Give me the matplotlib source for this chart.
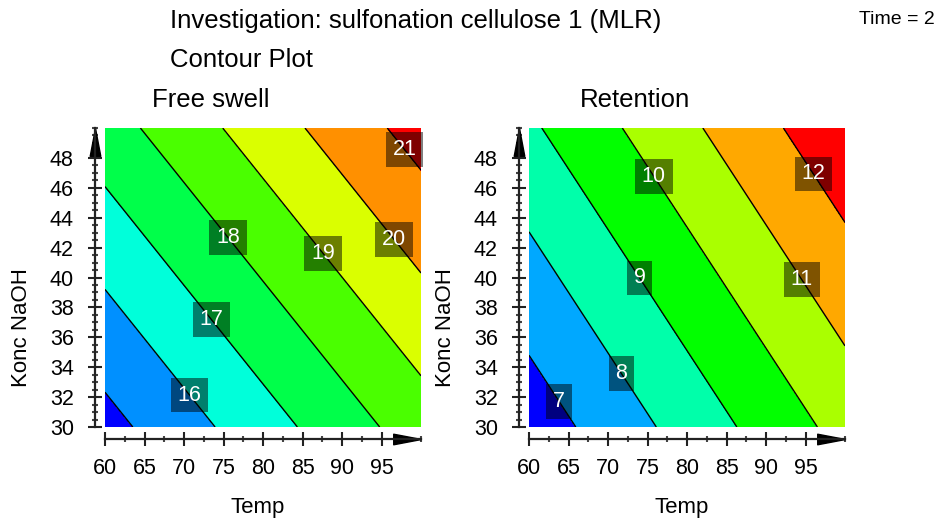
import numpy as np
import matplotlib.pyplot as plt
from matplotlib.colors import LinearSegmentedColormap
from matplotlib.ticker import MultipleLocator
from matplotlib.transforms import ScaledTranslation

plt.rcParams['font.family'] = ['Liberation Sans', 'DejaVu Sans']

# Design space
temp_range = [60, 100]
konc_range = [30, 50]
temp_ticks = [60, 65, 70, 75, 80, 85, 90, 95]
konc_ticks = [30, 32, 34, 36, 38, 40, 42, 44, 46, 48]

# MLR models: y = b0 + b_temp * Temp + b_konc * Konc
swell_coef = [4.54, 0.0960, 0.1454]
retention_coef = [-3.10, 0.0981, 0.1211]

swell_levels = [15, 16, 17, 18, 19, 20, 21]
retention_levels = [7, 8, 9, 10, 11, 12]

# Temp at which each contour gets its value box (None = no box)
swell_label_temp = [None, 70.7, 73.5, 75.6, 87.6, 96.6, 97.9]
retention_label_temp = [63.8, 71.7, 74.0, 75.8, 94.5, 96.0]

panels = [
    ("Free swell", swell_coef, swell_levels, swell_label_temp),
    ("Retention", retention_coef, retention_levels, retention_label_temp),
]

rainbow = LinearSegmentedColormap.from_list(
    "modde", ["#0000ff", "#00ffff", "#00ff00", "#ffff00", "#ff0000"])

fig = plt.figure(figsize=(9.39, 5.21), dpi=100)
W, H = 939, 521


def axes_rect(x0, x1, top, bottom):
    return [x0 / W, 1 - bottom / H, (x1 - x0) / W, (bottom - top) / H]


rects = [axes_rect(105, 421, 128, 427), axes_rect(529, 845, 128, 427)]

# arrow head, tip at the origin
arrow_x = [(0, 0), (-1, 0.19), (-1, -0.19), (0, 0)]
arrow_y = [(0, 0), (0.19, -1), (-0.19, -1), (0, 0)]

T = np.linspace(temp_range[0], temp_range[1], 201)
K = np.linspace(konc_range[0], konc_range[1], 201)
TT, KK = np.meshgrid(T, K)

for rect, (name, coef, levels, label_temp) in zip(rects, panels):
    ax = fig.add_axes(rect)
    b0, bt, bk = coef
    Z = b0 + bt * TT + bk * KK

    n = len(levels) + 1
    colors = [rainbow(i / (n - 1)) for i in range(n)]
    ax.contourf(TT, KK, Z, levels=levels, colors=colors, extend='both')
    ax.contour(TT, KK, Z, levels=levels, colors='black', linewidths=1.0)

    for lev, t in zip(levels, label_temp):
        if t is None:
            continue
        k = (lev - b0 - bt * t) / bk
        ax.text(t, k, str(lev), color='white', fontsize=15.5,
                ha='center', va='center',
                bbox=dict(boxstyle='square,pad=0.32', fc='black',
                          ec='none', alpha=0.5))

    ax.set_xlim(temp_range)
    ax.set_ylim(konc_range)
    ax.set_xticks(temp_ticks)
    ax.set_yticks(konc_ticks)
    ax.xaxis.set_minor_locator(MultipleLocator(2.5))
    ax.yaxis.set_minor_locator(MultipleLocator(0.5))

    for side in ('top', 'right'):
        ax.spines[side].set_visible(False)
    ax.spines['left'].set_position(('outward', 7.2))
    ax.spines['bottom'].set_position(('outward', 8.6))
    for side in ('left', 'bottom'):
        ax.spines[side].set_linewidth(1.6)
        ax.spines[side].set_color('#222222')

    ax.tick_params(which='major', direction='inout', length=10.5, width=1.5,
                   color='#222222', labelsize=15.5)
    ax.tick_params(which='minor', direction='inout', length=5, width=1.5,
                   color='#444444')
    ax.tick_params(axis='x', which='major', pad=8.5)
    ax.tick_params(axis='y', which='major', pad=10)

    ax.set_xlabel("Temp", fontsize=16, va='center')
    ax.xaxis.set_label_coords(0.484, -0.268)
    ax.set_ylabel("Konc NaOH", fontsize=16, va='center')
    ax.yaxis.set_label_coords(-0.265, 0.331)
    ax.text(0.335, 1.094, name, transform=ax.transAxes, fontsize=18.5,
            ha='center', va='center')

    # arrow heads at the ends of both axes
    off_x = ScaledTranslation(0, -8.6 / 72, fig.dpi_scale_trans)
    off_y = ScaledTranslation(-7.2 / 72, 0, fig.dpi_scale_trans)
    ax.plot([1], [0], marker=arrow_x, markersize=40, color='black',
            transform=ax.transAxes + off_x, clip_on=False)
    ax.plot([0], [1], marker=arrow_y, markersize=40, color='black',
            transform=ax.transAxes + off_y, clip_on=False)

fig.text(170 / W, 1 - 21 / H, "Investigation: sulfonation cellulose 1 (MLR)",
         fontsize=18.5, ha='left', va='center')
fig.text(170 / W, 1 - 60 / H, "Contour Plot", fontsize=18.5,
         ha='left', va='center')
fig.text(935 / W, 1 - 20 / H, "Time = 2", fontsize=14,
         ha='right', va='center')

fig.savefig("out.png", dpi=100)
